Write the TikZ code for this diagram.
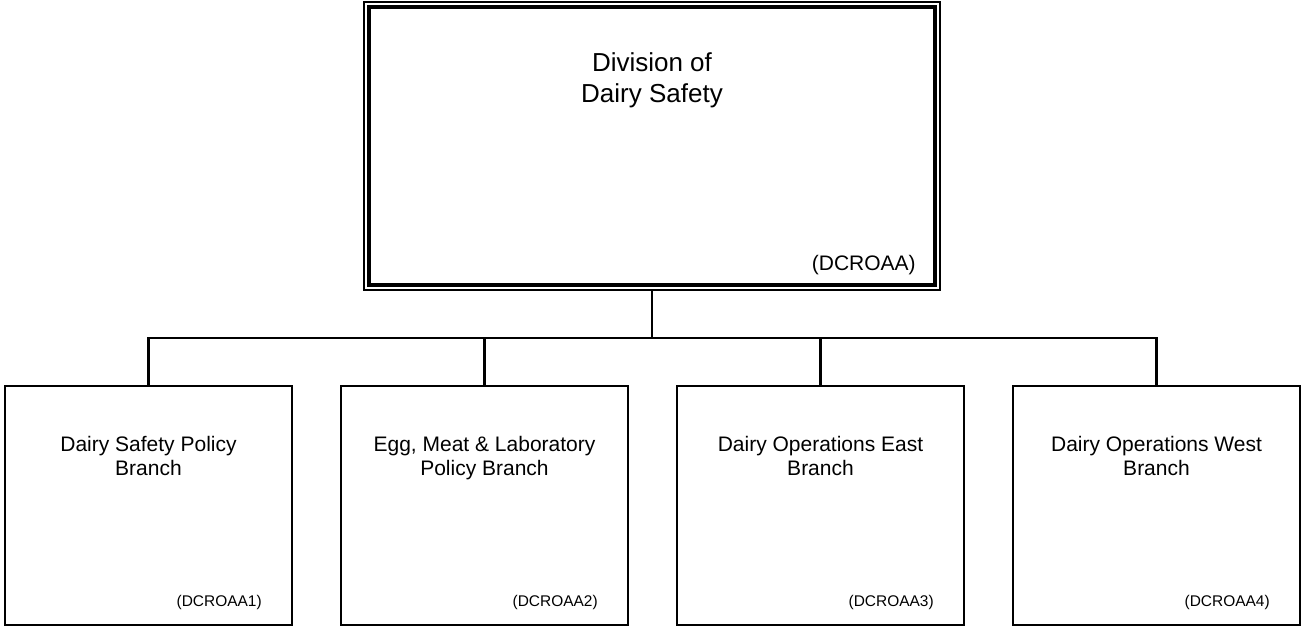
\documentclass[tikz,border=0pt]{standalone}
\usepackage{fontspec}
\setmainfont{Liberation Sans}
\begin{document}
\begin{tikzpicture}[x=0.75pt,y=-0.75pt,
  branchbox/.style={draw,line width=1.6pt,minimum width=215.25pt,minimum height=179.25pt,inner sep=0pt,outer sep=0pt},
  conn/.style={line width=1.6pt},
  toptitle/.style={align=center,font=\fontsize{19.5}{23.25}\selectfont,inner sep=0pt},
  branchtitle/.style={align=center,font=\fontsize{15.75}{18.6}\selectfont,inner sep=0pt},
  topcode/.style={anchor=east,font=\fontsize{15.75}{18.6}\selectfont,inner sep=0pt},
  branchcode/.style={anchor=east,font=\fontsize{11.6}{14}\selectfont,inner sep=0pt}]
\useasboundingbox (0,0) rectangle (1301,628);
% top box (double border)
\node[draw,line width=1.5pt,minimum width=432pt,minimum height=216pt,inner sep=0pt,outer sep=0pt] (topout) at (652,146) {};
\node[draw,line width=2.4pt,minimum width=424.5pt,minimum height=208.5pt,inner sep=0pt,outer sep=0pt] (topin) at (652,146) {};
\node[toptitle] (toptxt) at (652,80) {Division of\\Dairy Safety\vphantom{g}};
\node[topcode] (topcd) at (916,265) {(DCROAA)};
% branch boxes
\node[branchbox] (b1) at (148.5,505.5) {};
\node[branchbox] (b2) at (484.5,505.5) {};
\node[branchbox] (b3) at (820.5,505.5) {};
\node[branchbox] (b4) at (1156.5,505.5) {};
\node[branchtitle] (t1) at (148.5,458) {Dairy Safety Policy\\Branch\vphantom{y}};
\node[branchtitle] (t2) at (484.5,458) {Egg, Meat \& Laboratory\\Policy Branch\vphantom{y}};
\node[branchtitle] (t3) at (820.5,458) {Dairy Operations East\\Branch\vphantom{y}};
\node[branchtitle] (t4) at (1156.5,458) {Dairy Operations West\\Branch\vphantom{y}};
\node[branchcode] (c1) at (262,602.5) {(DCROAA1)};
\node[branchcode] (c2) at (598,602.5) {(DCROAA2)};
\node[branchcode] (c3) at (934,602.5) {(DCROAA3)};
\node[branchcode] (c4) at (1270,602.5) {(DCROAA4)};
% connectors
\coordinate (bus) at (652,338);
\draw[conn] (topout.south) -- (bus);
\draw[conn] (b1.north) |- (bus) -| (b4.north);
\draw[conn] (b2.north) -- (b2.north |- bus);
\draw[conn] (b3.north) -- (b3.north |- bus);
\end{tikzpicture}
\end{document}
